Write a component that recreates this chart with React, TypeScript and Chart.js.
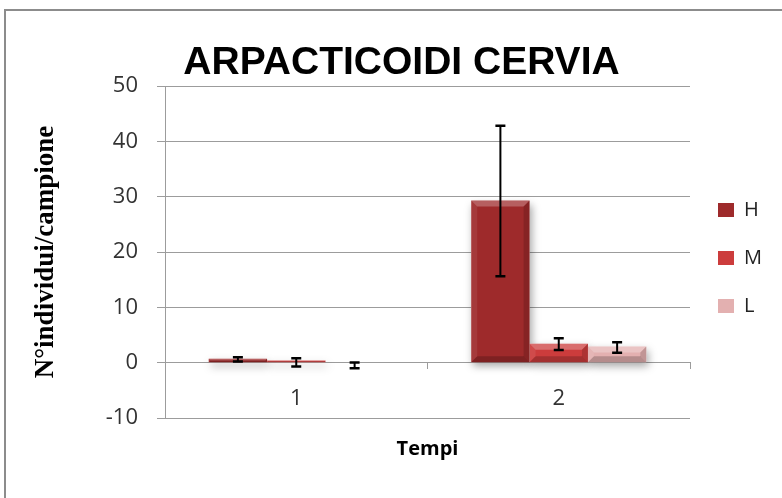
import React, { useEffect, useRef } from 'react';
import { Chart, registerables } from 'chart.js';

Chart.register(...registerables);

// ---- data ----
const categories = ['1', '2'];
const seriesNames = ['H', 'M', 'L'];
const hValues = [0.7, 29.3];
const mValues = [0.4, 3.4];
const lValues = [0.0, 2.9];
const hErrLow = [0.2, 15.6];
const hErrHigh = [1.0, 42.8];
const mErrLow = [-0.7, 2.3];
const mErrHigh = [0.8, 4.4];
const lErrLow = [-1.0, 1.8];
const lErrHigh = [0.05, 3.7];
const yMin = -10;
const yMax = 50;
const yStep = 10;
const chartTitle = 'ARPACTICOIDI CERVIA';
const yTitle = 'N°individui/campione';
const xTitle = 'Tempi';

const seriesValues = [hValues, mValues, lValues];
const seriesErrLow = [hErrLow, mErrLow, lErrLow];
const seriesErrHigh = [hErrHigh, mErrHigh, lErrHigh];
const seriesColors = ['#9e2a2b', '#cc3c3c', '#e3b0b0'];

function barBox(el: any) {
  const { x, y, base, width } = el.getProps(['x', 'y', 'base', 'width'], true);
  const l = x - width / 2;
  const r = x + width / 2;
  const t = Math.min(y, base);
  const b = Math.max(y, base);
  return { x, l, r, t, b, w: width, h: b - t };
}

const shadowPlugin = {
  id: 'barShadow',
  beforeDatasetsDraw(chart: any) {
    const ctx = chart.ctx;
    ctx.save();
    ctx.shadowColor = 'rgba(0,0,0,0.35)';
    ctx.shadowBlur = 8;
    ctx.shadowOffsetX = 2;
    ctx.shadowOffsetY = 4;
    ctx.fillStyle = '#ffffff';
    chart.data.datasets.forEach((_ds: any, i: number) => {
      const meta = chart.getDatasetMeta(i);
      meta.data.forEach((el: any) => {
        const bb = barBox(el);
        if (bb.h < 0.5) return;
        ctx.fillRect(bb.l, bb.t, bb.w, bb.h);
      });
    });
    ctx.restore();
  },
};

function poly(ctx: any, pts: number[][], fill: string) {
  ctx.beginPath();
  ctx.moveTo(pts[0][0], pts[0][1]);
  for (let i = 1; i < pts.length; i++) ctx.lineTo(pts[i][0], pts[i][1]);
  ctx.closePath();
  ctx.fillStyle = fill;
  ctx.fill();
}

const bevelPlugin = {
  id: 'barBevel',
  afterDatasetsDraw(chart: any) {
    const ctx = chart.ctx;
    ctx.save();
    chart.data.datasets.forEach((_ds: any, i: number) => {
      const meta = chart.getDatasetMeta(i);
      meta.data.forEach((el: any) => {
        const { l, r, t, b, w, h } = barBox(el);
        if (h < 0.5) return;
        const k = Math.min(6, h / 2, w / 2);
        poly(ctx, [[l, t], [r, t], [r - k, t + k], [l + k, t + k]], 'rgba(255,255,255,0.25)');
        poly(ctx, [[l, b], [r, b], [r - k, b - k], [l + k, b - k]], 'rgba(0,0,0,0.2)');
        poly(ctx, [[l, t], [l + k, t + k], [l + k, b - k], [l, b]], 'rgba(255,255,255,0.08)');
        poly(ctx, [[r, t], [r - k, t + k], [r - k, b - k], [r, b]], 'rgba(0,0,0,0.15)');
      });
    });
    ctx.restore();
  },
};

const errorBarPlugin = {
  id: 'errorBars',
  afterDatasetsDraw(chart: any) {
    const ctx = chart.ctx;
    const yScale = chart.scales.y;
    ctx.save();
    ctx.strokeStyle = '#000000';
    chart.data.datasets.forEach((_ds: any, i: number) => {
      const meta = chart.getDatasetMeta(i);
      meta.data.forEach((el: any, j: number) => {
        const x = el.getProps(['x'], true).x;
        const yl = yScale.getPixelForValue(seriesErrLow[i][j]);
        const yh = yScale.getPixelForValue(seriesErrHigh[i][j]);
        const cap = 5;
        ctx.lineWidth = 2;
        ctx.beginPath();
        ctx.moveTo(x, yl);
        ctx.lineTo(x, yh);
        ctx.stroke();
        ctx.lineWidth = 2.5;
        ctx.beginPath();
        ctx.moveTo(x - cap, yl);
        ctx.lineTo(x + cap, yl);
        ctx.moveTo(x - cap, yh);
        ctx.lineTo(x + cap, yh);
        ctx.stroke();
      });
    });
    ctx.restore();
  },
};

export default function App() {
  const canvasRef = useRef<HTMLCanvasElement | null>(null);

  useEffect(() => {
    if (!canvasRef.current) return;
    Chart.defaults.font.family = "'Open Sans', sans-serif";
    const gridColor = '#9c9c9c';
    const chart = new Chart(canvasRef.current, {
      type: 'bar',
      data: {
        labels: categories,
        datasets: seriesNames.map((name, i) => ({
          label: name,
          data: seriesValues[i],
          backgroundColor: seriesColors[i],
          borderWidth: 0,
          categoryPercentage: 0.667,
          barPercentage: 1.0,
        })),
      },
      options: {
        responsive: false,
        animation: false,
        devicePixelRatio: 1,
        layout: { padding: { left: 31, right: 10, top: 0, bottom: 80 } },
        plugins: {
          title: {
            display: true,
            text: chartTitle,
            color: '#000000',
            font: { family: "'Liberation Sans', Arial, sans-serif", weight: 'bold', size: 39, lineHeight: 1.18 },
            padding: { top: 40, bottom: 0 },
          },
          legend: {
            display: true,
            position: 'right',
            fullSize: false,
            title: { display: true, text: '', padding: 0, font: { size: 12, lineHeight: 1 } },
            labels: {
              boxWidth: 16,
              boxHeight: 14,
              padding: 28,
              color: '#222222',
              font: { size: 20 },
            },
          },
          tooltip: { enabled: false },
        },
        scales: {
          x: {
            position: { y: 0 } as any,
            afterFit: (scale: any) => { scale.height = 80; },
            grid: {
              display: true,
              drawOnChartArea: false,
              drawTicks: true,
              tickLength: 6,
              color: gridColor,
              offset: true,
            },
            border: { display: true, color: gridColor },
            ticks: { color: '#333333', font: { size: 22 }, padding: 17 },
            title: {
              display: true,
              text: xTitle,
              color: '#000000',
              font: { weight: 'bold', size: 20 },
              padding: { top: 0, bottom: -19 },
            },
          },
          y: {
            min: yMin,
            max: yMax,
            afterFit: (scale: any) => { scale.width = 134; },
            ticks: { stepSize: yStep, color: '#333333', font: { size: 22 }, padding: 19 },
            grid: { color: gridColor, tickLength: 8, drawTicks: true },
            border: { display: true, color: gridColor },
            title: {
              display: true,
              text: yTitle,
              color: '#000000',
              font: { family: "'Liberation Serif', 'Times New Roman', serif", weight: 'bold', size: 27, lineHeight: 1.2 },
              padding: { top: -1, bottom: 0 },
            },
          },
        },
      },
      plugins: [shadowPlugin, bevelPlugin, errorBarPlugin],
    } as any);
    return () => chart.destroy();
  }, []);

  return (
    <div style={{ position: 'fixed', left: 0, top: 0, width: 782, height: 498, overflow: 'hidden', background: '#ffffff' }}>
      <div style={{ position: 'absolute', left: 4, top: 9, width: 800, height: 520, border: '2px solid #8c8c8c', boxSizing: 'border-box' }} />
      <canvas ref={canvasRef} width={782} height={498} style={{ position: 'absolute', left: 0, top: 0, width: 782, height: 498 }} />
    </div>
  );
}
